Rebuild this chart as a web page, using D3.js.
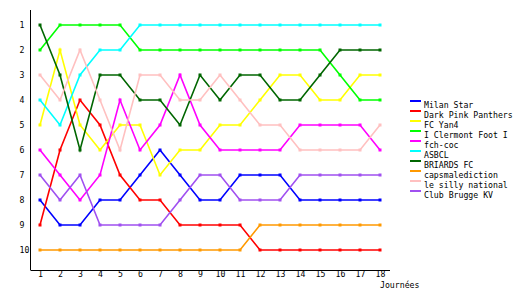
<!DOCTYPE html>
<html>
<head>
<meta charset="utf-8">
<script src="https://cdn.jsdelivr.net/npm/d3@7"></script>
<style>
	body { margin: 0; background: #fff; }
	text { font-family: 'DejaVu Sans Mono', monospace; font-size: 8.2px; fill: #000; }
</style>
</head>
<body>
<script>
// rank of each team after every matchday
var days = [1, 2, 3, 4, 5, 6, 7, 8, 9, 10, 11, 12, 13, 14, 15, 16, 17, 18];
var ranks = [1, 2, 3, 4, 5, 6, 7, 8, 9, 10];

var teams = ['Milan Star', 'Dark Pink Panthers', 'FC Yan4', 'I Clermont Foot I', 'fch-coc',
	'ASBCL', 'BRIARDS FC', 'capsmalediction', 'le silly national', 'Club Brugge KV'];
var colors = ['#0000ff', '#ff0000', '#ffff00', '#00ff00', '#ff00ff',
	'#00ffff', '#006600', '#ff9900', '#ffc0c0', '#a050f0'];

var milanStar        = [8, 9, 9, 8, 8, 7, 6, 7, 8, 8, 7, 7, 7, 8, 8, 8, 8, 8];
var darkPinkPanthers = [9, 6, 4, 5, 7, 8, 8, 9, 9, 9, 9, 10, 10, 10, 10, 10, 10, 10];
var fcYan4           = [5, 2, 5, 6, 5, 5, 7, 6, 6, 5, 5, 4, 3, 3, 4, 4, 3, 3];
var clermontFoot     = [2, 1, 1, 1, 1, 2, 2, 2, 2, 2, 2, 2, 2, 2, 2, 3, 4, 4];
var fchCoc           = [6, 7, 8, 7, 4, 6, 5, 3, 5, 6, 6, 6, 6, 5, 5, 5, 5, 6];
var asbcl            = [4, 5, 3, 2, 2, 1, 1, 1, 1, 1, 1, 1, 1, 1, 1, 1, 1, 1];
var briardsFc        = [1, 3, 6, 3, 3, 4, 4, 5, 3, 4, 3, 3, 4, 4, 3, 2, 2, 2];
var capsmalediction  = [10, 10, 10, 10, 10, 10, 10, 10, 10, 10, 10, 9, 9, 9, 9, 9, 9, 9];
var sillyNational    = [3, 4, 2, 4, 6, 3, 3, 4, 4, 3, 4, 5, 5, 6, 6, 6, 6, 5];
var clubBrugge       = [7, 8, 7, 9, 9, 9, 9, 8, 7, 7, 8, 8, 8, 7, 7, 7, 7, 7];

var series = [milanStar, darkPinkPanthers, fcYan4, clermontFoot, fchCoc,
	asbcl, briardsFc, capsmalediction, sillyNational, clubBrugge];

var svg = d3.select('body')
	.append('svg')
	.attr('width', 530)
	.attr('height', 300);

var xScale = d3.scaleLinear()
	.domain([1, 18])
	.range([40, 380]);
var yScale = d3.scaleLinear()
	.domain([1, 10])
	.range([25, 250]);

// axes, no tick marks, just the labels
var xAxis = d3.axisBottom(xScale).tickValues(days).tickSize(0).tickPadding(1).tickFormat(d3.format('d'));
var yAxis = d3.axisLeft(yScale).tickValues(ranks).tickSize(0).tickFormat(d3.format('d'));

svg.append('g')
	.attr('id', 'xaxis')
	.attr('transform', 'translate(0,270.5)')
	.call(xAxis);
svg.select('#xaxis .domain').attr('d', 'M30.5,0H390');

svg.append('g')
	.attr('id', 'yaxis')
	.attr('transform', 'translate(30.5,0)')
	.call(yAxis);
svg.select('#yaxis .domain').attr('d', 'M0,10V270');
svg.select('#yaxis').selectAll('.tick text')
	.attr('text-anchor', 'start')
	.attr('x', -11)
	.attr('dy', '0.32em');

svg.selectAll('.domain').attr('stroke', '#000').attr('stroke-width', 1);
svg.selectAll('g#xaxis, g#yaxis').attr('font-family', null).attr('font-size', null);

svg.append('text')
	.attr('x', 380)
	.attr('y', 288)
	.text('Journées');

// one line per team
var line = d3.line()
	.x(function(d, i){ return xScale(days[i]); })
	.y(function(d){ return yScale(d); });

var plot = svg.append('g').attr('id', 'plot');

series.forEach(function(values, k){
	var g = plot.append('g');
	g.append('path')
		.datum(values)
		.attr('d', line)
		.attr('fill', 'none')
		.attr('stroke', colors[k])
		.attr('stroke-width', 1.6);
	g.selectAll('rect')
		.data(values)
		.enter()
		.append('rect')
		.attr('x', function(d, i){ return xScale(days[i]) - 1.5; })
		.attr('y', function(d){ return yScale(d) - 1.5; })
		.attr('width', 3)
		.attr('height', 3)
		.attr('fill', colors[k]);
});

// legend
var legend = svg.append('g')
	.attr('id', 'legend')
	.selectAll('g')
	.data(teams)
	.enter()
	.append('g')
	.attr('transform', function(d, i){ return 'translate(410,' + (101 + i * 10) + ')'; });

legend.append('line')
	.attr('x1', 0).attr('x2', 11)
	.attr('y1', 0).attr('y2', 0)
	.attr('stroke', function(d, i){ return colors[i]; })
	.attr('stroke-width', 2);
legend.append('text')
	.attr('x', 14)
	.attr('y', 6.5)
	.text(function(d){ return d; });
</script>
</body>
</html>
